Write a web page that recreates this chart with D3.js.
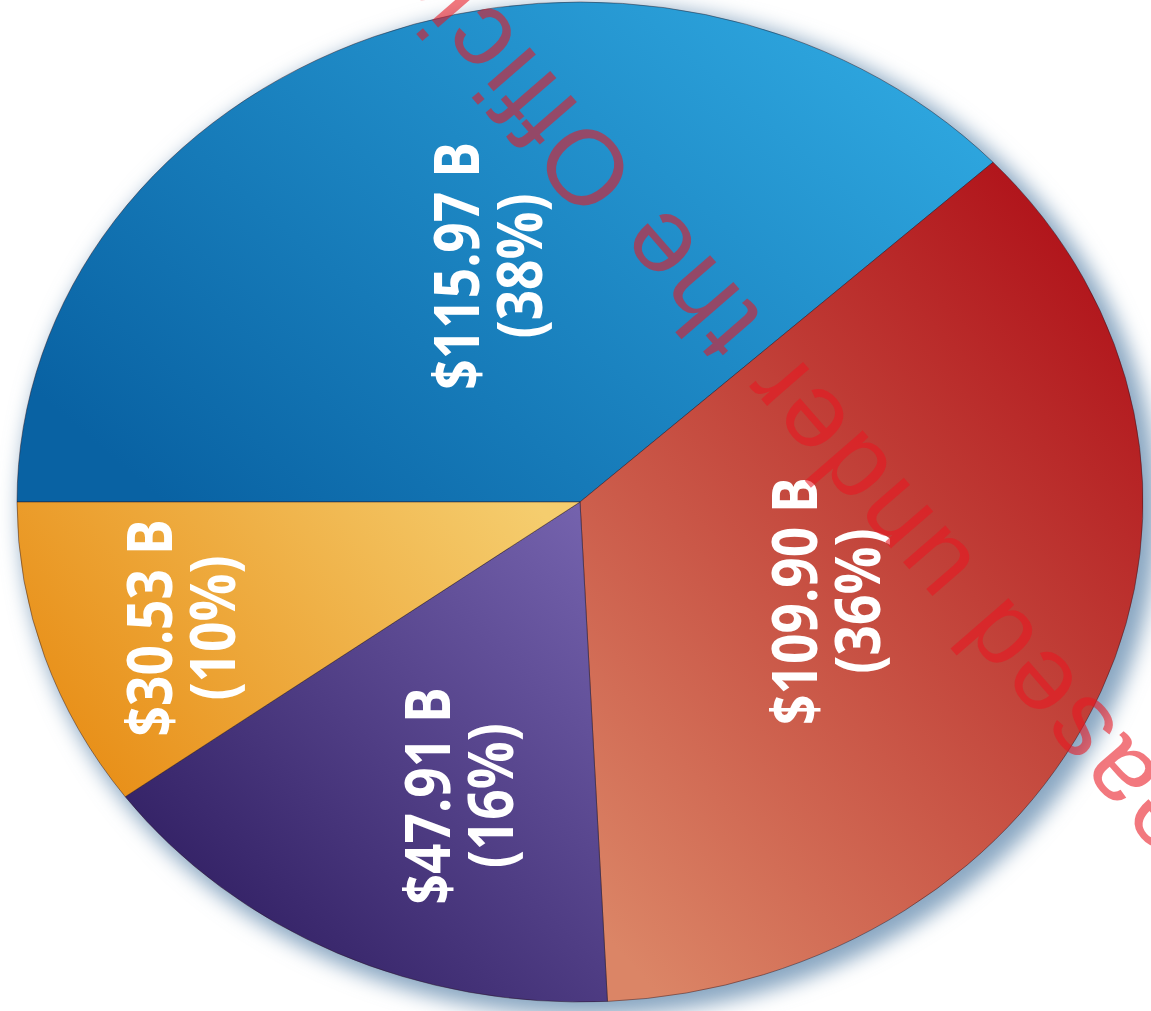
<!DOCTYPE html>
<html>
<head>
<meta charset="utf-8">
<script src="https://cdn.jsdelivr.net/npm/d3@7"></script>
<style>
  html, body { margin: 0; padding: 0; background: #ffffff; overflow: hidden; }
  svg { display: block; }
</style>
</head>
<body>
<svg id="chart" width="1151" height="1011"></svg>
<script>
// Spending split, in billions of dollars, clockwise from the 9 o'clock edge
const segments = ["blue", "red", "purple", "gold"];
const amounts = [115.97, 109.90, 47.91, 30.53];
const unitSuffix = " B";
const watermarkText = "Released under the Official Information Act";

// Slice fills: gradient from the shadowed end to the light end
const sliceFills = {
  blue:   { from: "#0962a3", to: "#30aae2", x1: 0, y1: 0.75, x2: 1, y2: 0.15 },
  red:    { from: "#db8566", to: "#b0131a", x1: 0.15, y1: 1, x2: 0.85, y2: 0.05 },
  purple: { from: "#29175a", to: "#7563ae", x1: 0.1, y1: 1, x2: 1, y2: 0.05 },
  gold:   { from: "#e88f18", to: "#f5cd6e", x1: 0, y1: 0.6, x2: 1, y2: 0.2 }
};

// Label placement inside each slice: radius fraction and angular nudge (degrees)
const labelPlacement = {
  blue:   { k: 0.501, shift: 1.9 },
  red:    { k: 0.477, shift: 2.35 },
  purple: { k: 0.627, shift: -5.1 },
  gold:   { k: 0.756, shift: -1.4 }
};

const cx = 580, cy = 502;
const R = 500;          // vertical radius
const sx = 563 / 500;   // horizontal stretch of the disc

const svg = d3.select("#chart");
const defs = svg.append("defs");

// soft halo around the disc edge
const blur = defs.append("filter").attr("id", "halo")
  .attr("x", "-10%").attr("y", "-10%").attr("width", "120%").attr("height", "120%");
blur.append("feGaussianBlur").attr("stdDeviation", 10);

segments.forEach(s => {
  const f = sliceFills[s];
  const g = defs.append("linearGradient").attr("id", "grad-" + s)
    .attr("x1", f.x1).attr("y1", f.y1).attr("x2", f.x2).attr("y2", f.y2);
  g.append("stop").attr("offset", "0%").attr("stop-color", f.from);
  g.append("stop").attr("offset", "100%").attr("stop-color", f.to);
});

const total = d3.sum(amounts);
const data = segments.map((s, i) => ({ key: s, value: amounts[i] }));

const pie = d3.pie()
  .value(d => d.value)
  .sort(null)
  .startAngle(-Math.PI / 2)
  .endAngle(1.5 * Math.PI);

const arcs = pie(data);
const arc = d3.arc().innerRadius(0).outerRadius(R);

// halo layer
svg.append("ellipse")
  .attr("cx", cx + 9).attr("cy", cy + 8)
  .attr("rx", R * sx + 6).attr("ry", R + 6)
  .attr("fill", "#8aa7c2")
  .attr("filter", "url(#halo)");

const disc = svg.append("g")
  .attr("transform", `translate(${cx},${cy}) scale(${sx},1)`);

disc.selectAll("path.slice")
  .data(arcs)
  .join("path")
  .attr("class", "slice")
  .attr("d", arc)
  .attr("fill", d => `url(#grad-${d.data.key})`)
  .attr("stroke", "rgba(40,20,30,0.45)")
  .attr("stroke-width", 1)
  .attr("vector-effect", "non-scaling-stroke");

// value labels, set vertically reading upward in a condensed bold face
const fmtAmount = d3.format(".2f");
const labels = svg.append("g").selectAll("g.label")
  .data(arcs)
  .join("g")
  .attr("class", "label")
  .attr("transform", d => {
    const p = labelPlacement[d.data.key];
    const a = (d.startAngle + d.endAngle) / 2 + p.shift * Math.PI / 180;
    const x = cx + sx * R * p.k * Math.sin(a);
    const y = cy - R * p.k * Math.cos(a);
    return `translate(${x},${y}) rotate(-90) scale(0.86,1)`;
  });

labels.append("text")
  .attr("y", -31)
  .text(d => "$" + fmtAmount(d.data.value) + unitSuffix);

labels.append("text")
  .attr("y", 32)
  .text(d => "(" + Math.round(d.data.value / total * 100) + "%)");

labels.selectAll("text")
  .attr("text-anchor", "middle")
  .attr("dominant-baseline", "central")
  .attr("fill", "#ffffff")
  .attr("font-family", "'Open Sans', 'Noto Sans', sans-serif")
  .attr("font-weight", 700)
  .attr("font-size", 62);

// diagonal release stamp
svg.append("text")
  .attr("transform", "translate(1316,952) rotate(-131)")
  .attr("font-family", "'Liberation Sans', Arial, sans-serif")
  .attr("font-size", 106)
  .attr("letter-spacing", 4)
  .attr("fill", "rgba(232,22,32,0.58)")
  .text(watermarkText);
</script>
</body>
</html>
